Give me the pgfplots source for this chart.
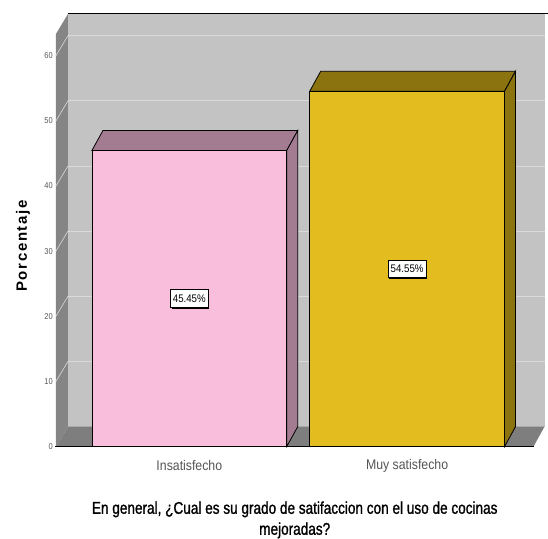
\documentclass[border=0pt]{standalone}
\usepackage{fontspec}
\setmainfont{Liberation Sans}
\newfontfamily\narrow[FakeStretch=0.88]{Liberation Sans}
\newfontfamily\titlefont[FakeStretch=0.8, FakeBold=1.2]{Liberation Sans}
\usepackage{pgfplots}
\pgfplotsset{compat=1.18}
\usetikzlibrary{shadows}

% colours of the walls and of the two bars (front face / shaded faces)
\definecolor{wallback}{HTML}{C3C3C3}
\definecolor{wallside}{HTML}{858585}
\definecolor{floorc}{HTML}{7E7E7E}
\definecolor{gridc}{HTML}{DADADA}
\definecolor{pinkfront}{HTML}{F8BEDC}
\definecolor{pinkshade}{HTML}{A47C91}
\definecolor{goldfront}{HTML}{E3BD1F}
\definecolor{goldshade}{HTML}{8B7410}
\definecolor{labelgray}{HTML}{555555}

\begin{document}
\begin{tikzpicture}
\begin{axis}[
  scale only axis,
  width=548pt, height=538pt,
  xmin=0, xmax=548,
  ymin=-13.957, ymax=68.558,
  hide axis,
  clip=false,
]
% full drawing area
\path (rel axis cs:0,0) rectangle (rel axis cs:1,1);

% back wall, left wall and floor of the 3D frame (depth: 11 units in x, 3.067 in y)
\addplot[fill=wallback, draw=none] coordinates {(68,3.067) (545,3.067) (545,66.41) (68,66.41)} -- cycle;
\addplot[fill=wallside, draw=none] coordinates {(56,0) (68,3.067) (68,66.41) (56,63.34)} -- cycle;
\addplot[fill=floorc, draw=none] coordinates {(56,0) (534,0) (545,3.067) (68,3.067)} -- cycle;

% grid lines on the back wall and tick strokes on the side wall
\pgfplotsinvokeforeach{10,20,30,40,50,60}{
  \addplot[gridc, line width=0.8pt] coordinates {(68,#1+3.067) (545,#1+3.067)};
  \addplot[gridc, line width=0.6pt] coordinates {(56,#1) (68,#1+3.067)};
}
\addplot[black, line width=1pt] coordinates {(68,66.41) (548,66.41)};
\addplot[black, line width=1.2pt] coordinates {(55,0) (534,0)};

% y tick labels
\pgfplotsinvokeforeach{0,10,20,30,40,50,60}{
  \node[anchor=east, font=\narrow\fontsize{8.5}{8.5}\selectfont, text=labelgray, inner sep=0pt]
    at (axis cs:53,#1) {#1};
}

% shaded top and side faces of the bars
\addplot[fill=pinkshade, draw=black, line width=0.8pt] coordinates {(92,45.45) (287,45.45) (298,48.517) (103,48.517)} -- cycle;
\addplot[fill=pinkshade, draw=black, line width=0.8pt] coordinates {(287,0) (298,3.067) (298,48.517) (287,45.45)} -- cycle;
\addplot[fill=goldshade, draw=black, line width=0.8pt] coordinates {(310,54.55) (505,54.55) (516,57.617) (321,57.617)} -- cycle;
\addplot[fill=goldshade, draw=black, line width=0.8pt] coordinates {(505,0) (516,3.067) (516,57.617) (505,54.55)} -- cycle;

% front faces of the bars
\addplot[ybar, bar width=195, bar shift=0pt, fill=pinkfront, draw=black, line width=0.8pt]
  coordinates {(189.5,45.45)};
\addplot[ybar, bar width=195, bar shift=0pt, fill=goldfront, draw=black, line width=0.8pt]
  coordinates {(407.5,54.55)};

% value labels in the middle of each bar
\node[fill=white, draw=black, line width=1pt, inner xsep=2.5pt, inner ysep=5pt,
      font=\narrow\fontsize{11}{11}\selectfont,
      drop shadow={shadow xshift=1.2pt, shadow yshift=-1.2pt, fill=black, opacity=1}]
  at (axis cs:189.5,22.725) {45.45\%};
\node[fill=white, draw=black, line width=1pt, inner xsep=2.5pt, inner ysep=5pt,
      font=\narrow\fontsize{11}{11}\selectfont,
      drop shadow={shadow xshift=1.2pt, shadow yshift=-1.2pt, fill=black, opacity=1}]
  at (axis cs:407.5,27.275) {54.55\%};

% category names
\node[font=\narrow\fontsize{14}{14}\selectfont, text=labelgray] at (axis cs:189.5,-2.95) {Insatisfecho};
\node[font=\narrow\fontsize{14}{14}\selectfont, text=labelgray] at (axis cs:407.5,-2.95) {Muy satisfecho};

% axis titles
\node[font=\titlefont\fontsize{17}{21}\selectfont, align=center, inner sep=0pt] at (axis cs:295,-11.25)
  {En general, ¿Cual es su grado de satifaccion con el uso de cocinas\\mejoradas?};
\node[rotate=90, font=\bfseries\fontsize{15}{15}\selectfont\addfontfeatures{LetterSpace=11}]
  at (axis cs:23,30.8) {Porcentaje};
\end{axis}
\end{tikzpicture}
\end{document}
